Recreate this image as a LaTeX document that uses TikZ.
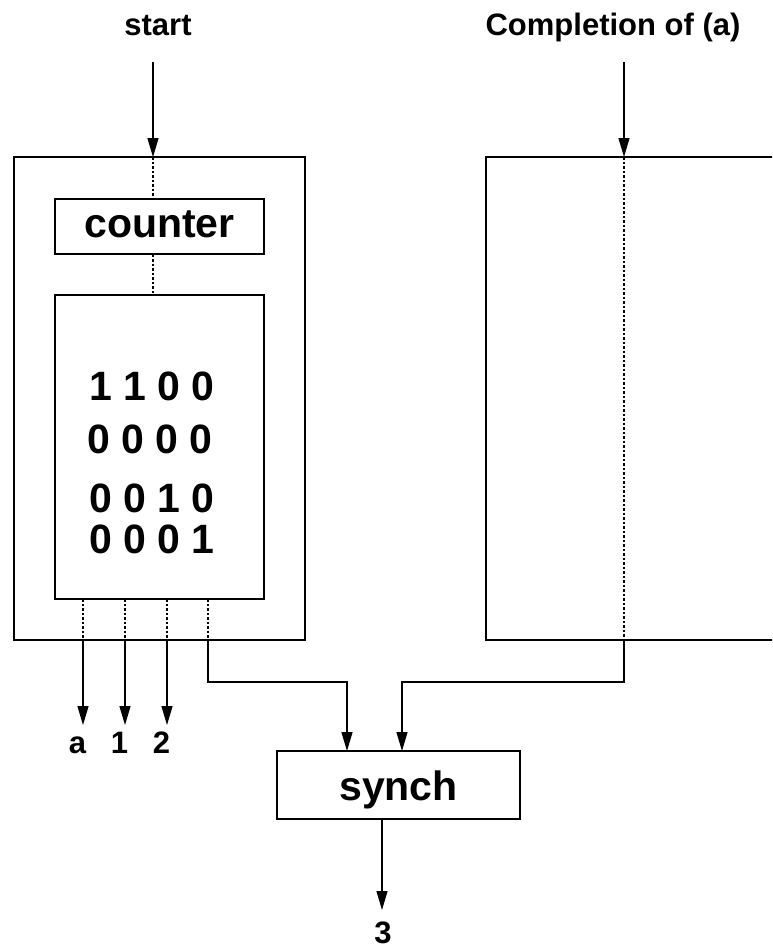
\documentclass[tikz,border=0pt]{standalone}
\usepackage{fontspec}
\setmainfont{Liberation Sans}
\usetikzlibrary{arrows.meta}

\begin{document}
\begin{tikzpicture}[x=1pt, y=-1pt,
    box/.style={draw, line width=1.3pt, inner sep=0pt},
    big/.style={font=\bfseries\fontsize{41}{48}\selectfont},
    small/.style={font=\bfseries\fontsize{31}{36}\selectfont},
    dot/.style={line width=1.3pt, dash pattern=on 2.5pt off 2pt},
    wire/.style={line width=1.3pt},
    >={Triangle[length=19pt, width=11pt]}]
  \clip (0,0) rectangle (772,951);
  \useasboundingbox (0,0) rectangle (772,951);

  % titles
  \node[small, anchor=base] (startLbl) at (158,35) {start};
  \node[small, anchor=base] (doneLbl) at (613,35) {Completion of (a)};

  % left unit
  \node[box, minimum width=291pt, minimum height=483pt] (unitL) at (159.5,398.5) {};
  \node[box, big, minimum width=209pt, minimum height=55pt, text height=21pt, text depth=0pt] (counter) at (159.5,226.5) {counter};
  \node[box, minimum width=209pt, minimum height=304pt] (table) at (159.5,447) {};
  \node[big, anchor=base] (row1) at (152,400) {1 1 0 0};
  \node[big, anchor=base] (row2) at (150,453) {0 0 0 0};
  \node[big, anchor=base] (row3) at (152,512) {0 0 1 0};
  \node[big, anchor=base] (row4) at (152,553) {0 0 0 1};

  % right unit
  \node[box, minimum width=320pt, minimum height=483pt] (unitR) at (646,398.5) {};

  % synchroniser
  \node[box, big, minimum width=243pt, minimum height=68pt, text height=30pt, text depth=0pt] (synch) at (398.5,785) {synch};

  % start path
  \coordinate (startTop) at (153,62);
  \coordinate (startIn) at (153,157);
  \draw[wire,->] (startTop) -- (startIn);
  \draw[dot] (startIn) -- (counter.north -| startIn);
  \draw[dot] (counter.south -| startIn) -- (table.north -| startIn);

  % outputs of the table
  \foreach \x/\t [count=\i] in {83/a,125/1,167/2}{
    \coordinate (tap\i) at (\x,599);
    \coordinate (exit\i) at (\x,640);
    \coordinate (tip\i) at (\x,725);
    \draw[dot] (tap\i) -- (exit\i);
    \draw[wire,->] (exit\i) -- (tip\i);
    \node[small, anchor=base] (out\i) at (\x-5.5,753) {\t};
  }
  \coordinate (tap4) at (208,599);
  \coordinate (exit4) at (208,640);
  \coordinate (bendL) at (208,682);
  \coordinate (inL) at (347,751);
  \draw[dot] (tap4) -- (exit4);
  \draw[wire,->] (exit4) -- (bendL) -| (inL);

  % completion path
  \coordinate (doneTop) at (624,62);
  \coordinate (doneIn) at (624,157);
  \coordinate (doneExit) at (624,640);
  \coordinate (bendR) at (624,682);
  \coordinate (inR) at (402,751);
  \draw[wire,->] (doneTop) -- (doneIn);
  \draw[dot] (doneIn) -- (doneExit);
  \draw[wire,->] (doneExit) -- (bendR) -| (inR);

  % result
  \coordinate (res) at (382,910);
  \draw[wire,->] (synch.south -| res) -- (res);
  \node[small, anchor=base] (three) at (383,943) {3};
\end{tikzpicture}
\end{document}
